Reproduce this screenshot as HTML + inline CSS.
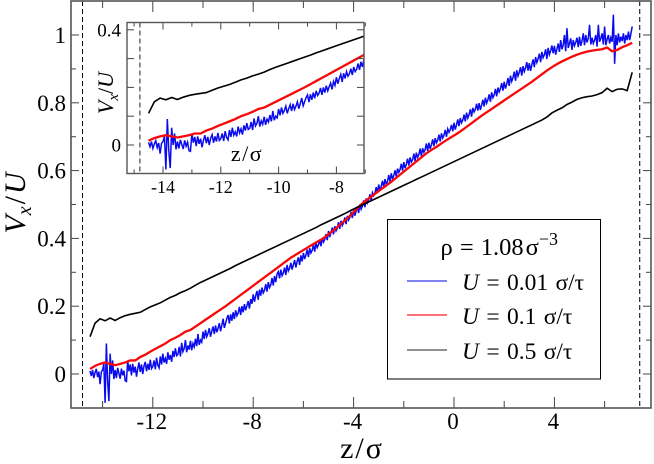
<!DOCTYPE html>
<html>
<head>
<meta charset="utf-8">
<style>
html,body{margin:0;padding:0;background:#fff;}
svg{display:block;font-family:"Liberation Serif",serif;}
</style>
</head>
<body>
<svg id="chart" width="654" height="464" viewBox="0 0 654 464" xmlns="http://www.w3.org/2000/svg">
<defs>
<clipPath id="inset-clip"><rect x="127" y="22.5" width="237" height="151"/></clipPath>
<clipPath id="main-clip"><rect x="71" y="1" width="580" height="407"/></clipPath>
</defs>
<rect width="654" height="464" fill="#fff"/>
<g id="main"></g>
<g id="inset"></g>
<g>
<rect x="387.5" y="219.5" width="213" height="159.5" fill="#fff" stroke="#000" stroke-width="1"/>
<text x="440.5" y="255" font-size="24.5" word-spacing="1">ρ = 1.08<tspan dx="2">σ</tspan><tspan font-size="18" dy="-10">−3</tspan></text>
<line x1="407" x2="447" y1="281" y2="281" stroke="#0000e0" stroke-width="1"/>
<text x="462" y="290" font-size="23.5" word-spacing="1.5"><tspan font-style="italic">U</tspan> = 0.01 σ/τ</text>
<line x1="407" x2="447" y1="315" y2="315" stroke="#ff7078" stroke-width="2"/>
<text x="462" y="324" font-size="23.5" word-spacing="1.5"><tspan font-style="italic">U</tspan> = 0.1 σ/τ</text>
<line x1="407" x2="447" y1="350" y2="350" stroke="#222" stroke-width="1"/>
<text x="462" y="359" font-size="23.5" word-spacing="1.5"><tspan font-style="italic">U</tspan> = 0.5 σ/τ</text>
</g>
<text x="362" y="458" font-size="30" letter-spacing="2" text-anchor="middle">z/σ</text>
<text transform="translate(25,203) rotate(-90)" font-size="30" text-anchor="middle"><tspan font-style="italic">V</tspan><tspan font-style="italic" font-size="20" dy="6">x</tspan><tspan dy="-6" dx="2">/</tspan><tspan font-style="italic" dx="2">U</tspan></text>
<text x="247" y="161" font-size="22" letter-spacing="1.5" text-anchor="middle">z/σ</text>
<text transform="translate(113,93) rotate(-90)" font-size="22" text-anchor="middle"><tspan font-style="italic">V</tspan><tspan font-style="italic" font-size="15" dy="5">x</tspan><tspan dy="-5">/</tspan><tspan font-style="italic">U</tspan></text>
</svg>
<script>
var blueStart = -14.5;
var blueStep = 0.05;
var blueValues = [
.009,-.006,.012,-.012,.004,.015,-.009,.007,-.03,.006,
.012,.03,-.085,.09,-.02,-.08,.06,.0,.04,-.015,
.012,-.012,.018,.002,-.014,.016,-.004,.01,-.02,-.022,
.04,.008,.028,-.004,.03,.004,.022,-.008,.016,.034,.006,.028,.0,.024,.036,.008,.03,.012,.042,.016,
.022,.04,.014,.048,.026,.018,.052,.028,.06,.034,.046,.03,.064,.042,.056,.036,.068,.05,.076,.054,
.058,.08,.052,.092,.066,.075,.1,.064,.084,.072,.098,.07,.09,.08,.104,.082,.118,.086,.1,.094,
.125,.103,.13,.11,.12,.135,.11,.126,.14,.118,.143,.123,.135,.15,.126,.144,.163,.136,.15,.164,
.174,.149,.176,.157,.182,.162,.188,.172,.18,.198,.174,.2,.182,.206,.188,.202,.215,.193,.221,.207,
.235,.213,.231,.245,.219,.249,.231,.255,.239,.247,.265,.243,.271,.255,.263,.283,.261,.289,.271,.295,
.302,.282,.308,.29,.298,.314,.292,.322,.304,.312,.328,.308,.322,.336,.314,.332,.344,.322,.35,.332,
.357,.339,.351,.367,.345,.371,.357,.365,.381,.361,.387,.373,.381,.397,.377,.401,.389,.397,.413,.395,
.422,.404,.418,.432,.412,.436,.422,.43,.448,.428,.452,.438,.446,.462,.442,.466,.454,.462,.478,.46,
.483,.467,.48,.494,.475,.5,.486,.495,.512,.492,.518,.505,.514,.53,.512,.535,.526,.534,.551,.534,
.559,.541,.554,.57,.551,.575,.56,.568,.587,.567,.592,.576,.585,.601,.582,.606,.595,.603,.62,.6,
.625,.607,.619,.635,.615,.639,.625,.632,.65,.628,.653,.639,.647,.665,.642,.666,.654,.662,.68,.658,
.682,.664,.676,.692,.672,.696,.682,.69,.706,.686,.71,.696,.704,.72,.7,.723,.713,.721,.735,.716,
.741,.721,.735,.751,.731,.755,.741,.749,.765,.745,.771,.755,.765,.781,.759,.785,.773,.781,.797,.777,
.799,.779,.793,.809,.789,.815,.799,.809,.825,.803,.831,.815,.823,.841,.819,.845,.832,.842,.858,.836,
.862,.842,.855,.873,.85,.88,.863,.874,.892,.865,.896,.879,.89,.905,.88,.908,.892,.903,.92,.895,
.917,.894,.912,.928,.905,.935,.919,.93,.945,.92,.95,.933,.942,.958,.929,.962,.942,.953,.969,.946,
.968,.942,.958,.975,.95,.985,.958,.97,1.0,.952,1.02,.962,.975,.99,.956,.985,.968,.978,.992,.964,
.995,.968,.982,1.005,.97,1.0,.978,.99,1.03,.972,.992,.975,.985,1.0,.966,1.03,.98,.99,1.005,.972,
1.025,.97,.988,1.0,.975,.992,.98,1.06,.915,1.0,.97,1.005,.978,.995,.982,1.005,.975,1.0,.985,1.01,
.985,1.005,1.025
];
var redStart = -14.5;
var redStep = 0.2;
var redValues = [
.015,.024,.03,.034,.03,.026,.03,.034,.04,.04,.05,.057,.066,.074,.082,.09,.1,.107,.115,.125,.13,
.14,.15,.16,.17,.18,.19,.2,.211,.222,.233,.244,.255,.266,.277,.288,.299,.31,.321,.332,.343,
.352,.361,.37,.379,.388,.396,.406,.418,.43,.443,.456,.47,.485,.5,.512,.523,.534,.545,.556,.567,
.579,.591,.603,.615,.627,.639,.651,.661,.67,.68,.69,.699,.708,.718,.729,.74,.751,.762,.772,.782,
.792,.802,.812,.822,.832,.842,.852,.862,.873,.884,.895,
.905,.914,.922,.929,.936,.942,.947,.951,.954,.956,.958,.963,.952,.956,.964,.97,.977
];
var blackStart = -14.5;
var blackStep = 0.2;
var blackValues = [
.11,.15,.163,.157,.165,.158,.166,.172,.176,.179,.182,.19,.198,.204,.21,.218,.226,.232,.24,.246,.253,.262,.27,.277,
.284,.291,.298,.305,.312,.32,.327,.334,.341,.348,.355,.362,.369,.376,.383,.39,.397,.404,.411,.418,.425,.432,.44,.447,.454,.461,.468,.475,.483,.49,.497,
.504,.511,.518,.525,.532,.539,.546,.553,.56,.567,.574,.581,.588,.595,.602,.609,.616,.623,.63,.637,.644,.651,.658,.665,.672,.679,.686,.693,.7,.707,.714,.721,.728,.735,.742,.749,.758,
.77,.778,.785,.795,.802,.81,.815,.818,.82,.824,.83,.843,.833,.84,.841,.836,.89
];
var mainXTicks = [-12,-8,-4,0,4];
var mainYTicks = ['0','0.2','0.4','0.6','0.8','1'];
var insetXTicks = [-14,-12,-10,-8];
var insetYTicks = ['0','0.4'];
var leftWall = -14.8;
var rightWall = 7.4;

var NS = 'http://www.w3.org/2000/svg';
function make(tag, attrs, parent, txt) {
  var e = document.createElementNS(NS, tag);
  for (var k in attrs) { e.setAttribute(k, attrs[k]); }
  if (txt !== undefined) { e.textContent = txt; }
  parent.appendChild(e);
  return e;
}
function mainX(z) { return 454 + 25.1 * z; }
function mainY(v) { return 374 - 339 * v; }
function insetX(z) { return 163 + 28.9 * (z + 14); }
function insetY(v) { return 145 - 288 * v; }

function pathFrom(values, start, step, fx, fy) {
  var d = '';
  for (var i = 0; i < values.length; i++) {
    d += (i ? 'L' : 'M') + fx(start + i * step).toFixed(2) + ' ' + fy(values[i]).toFixed(2);
  }
  return d;
}
function drawSeries(g, fx, fy, clip) {
  var b = make('path', {d: pathFrom(blueValues, blueStart, blueStep, fx, fy), fill: 'none', stroke: '#0a0aee', 'stroke-width': 1.5, 'clip-path': clip}, g);
  
  
  var r = make('path', {d: pathFrom(redValues, redStart, redStep, fx, fy), fill: 'none', stroke: '#f80808', 'stroke-width': 2.3, 'clip-path': clip}, g);
  
  
  var k = make('path', {d: pathFrom(blackValues, blackStart, blackStep, fx, fy), fill: 'none', stroke: '#000', 'stroke-width': 1.6, 'clip-path': clip}, g);
  
  
}
function tick(g, x1, y1, x2, y2, w) {
  var t = make('line', {x1: x1, y1: y1, x2: x2, y2: y2, stroke: '#444', 'stroke-width': w}, g);
  
  
}

/* main plot */
var main = document.getElementById('main');
var L = 71, R = 651, T = 1, B = 408;
[leftWall, rightWall].forEach(function (w) {
  var l = make('line', {x1: mainX(w), x2: mainX(w), y1: T, y2: B, stroke: '#000', 'stroke-width': 1, 'stroke-dasharray': '5 3'}, main);
  
  
});
drawSeries(main, mainX, mainY, 'url(#main-clip)');
var z, v, i;
for (z = -14; z <= 6; z += 2) {
  var major = mainXTicks.indexOf(z) >= 0;
  tick(main, mainX(z), B, mainX(z), B - (major ? 11 : 7), 1);
  tick(main, mainX(z), T, mainX(z), T + (major ? 11 : 7), 1);
}
for (i = 0; i <= 10; i++) {
  v = i / 10;
  var isMaj = i % 2 === 0;
  tick(main, L, mainY(v), L + (isMaj ? 8 : 5), mainY(v), 1);
  tick(main, R, mainY(v), R - (isMaj ? 8 : 5), mainY(v), 1);
}
var mf = make('rect', {x: L, y: T, width: R - L, height: B - T, fill: 'none', stroke: '#555', 'stroke-width': 1.6}, main);


mainXTicks.forEach(function (t) {
  var e = make('text', {x: mainX(t) - 1, y: 429, 'font-size': 23, 'text-anchor': 'middle'}, main, String(t));
  
  
});
mainYTicks.forEach(function (t) {
  var e = make('text', {x: 66, y: mainY(parseFloat(t)) + 8, 'font-size': 23, 'text-anchor': 'end'}, main, t);
  
  
});

/* inset plot */
var inset = document.getElementById('inset');
var iL = 127, iR = 364, iT = 22.5, iB = 173.5;
var bg = make('rect', {x: iL, y: iT, width: iR - iL, height: iB - iT, fill: '#fff', stroke: 'none'}, inset);


var iw = make('line', {x1: insetX(leftWall), x2: insetX(leftWall), y1: iT, y2: iB, stroke: '#222', 'stroke-width': 1, 'stroke-dasharray': '5 3'}, inset);


drawSeries(inset, insetX, insetY, 'url(#inset-clip)');
for (z = -15; z <= -7; z += 1) {
  var imaj = insetXTicks.indexOf(z) >= 0;
  tick(inset, insetX(z), iB, insetX(z), iB - (imaj ? 7 : 4), 1);
  tick(inset, insetX(z), iT, insetX(z), iT + (imaj ? 7 : 4), 1);
}
for (i = 0; i <= 4; i++) {
  v = i / 10;
  tick(inset, iL, insetY(v), iL + 7, insetY(v), 1);
  tick(inset, iR, insetY(v), iR - 7, insetY(v), 1);
}
var fr = make('rect', {x: iL, y: iT, width: iR - iL, height: iB - iT, fill: 'none', stroke: '#555', 'stroke-width': 1.4}, inset);


insetXTicks.forEach(function (t) {
  var e = make('text', {x: insetX(t), y: 193, 'font-size': 18, 'text-anchor': 'middle'}, inset, String(t));
  
  
});
insetYTicks.forEach(function (t) {
  var e = make('text', {x: 121, y: insetY(parseFloat(t)) + 6.5, 'font-size': 19, 'text-anchor': 'end'}, inset, t);
  
  
});
</script>
</body>
</html>
